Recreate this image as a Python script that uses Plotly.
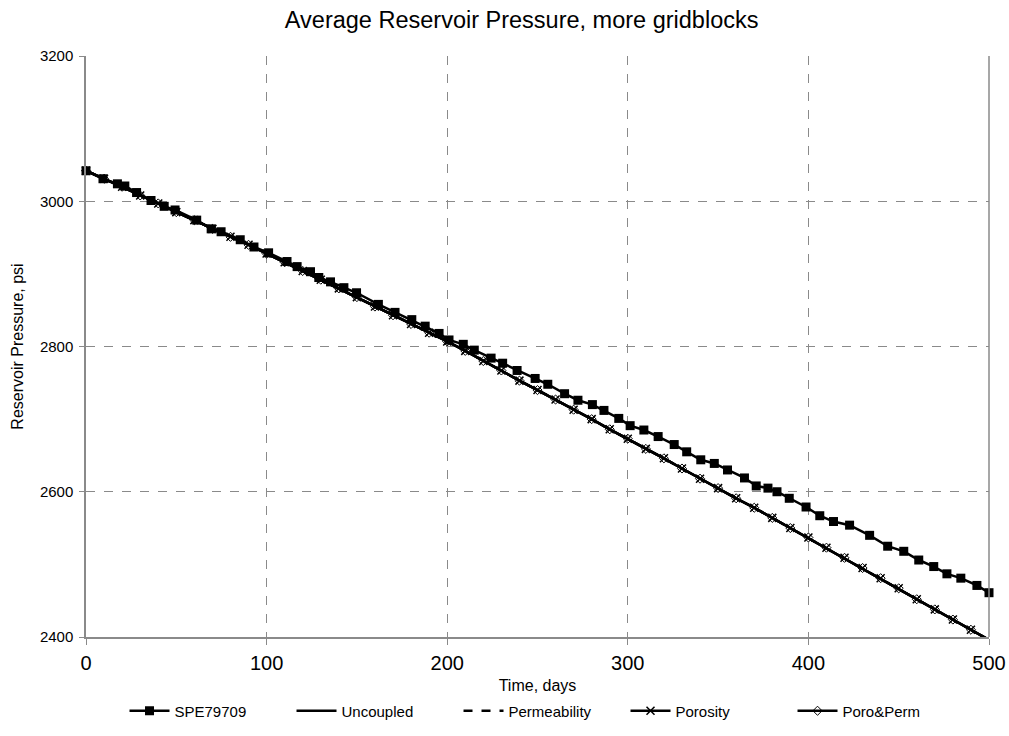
import plotly.graph_objects as go

# SPE79709 reference data (days, psi)
spe_t = [0, 9.4, 17.4, 21.5, 28, 36, 43.3, 49.3, 61.3, 69.3, 74.8, 85.4, 93,
         101.1, 111.3, 116.9, 124.3, 128.9, 135.4, 142.8, 149.8, 161.9, 171.1,
         180.4, 187.8, 195.5, 201, 208.9, 215, 224.3, 230.7, 238.7, 248.7,
         255.7, 265, 272.4, 280.4, 286.8, 295, 301.3, 308.9, 316.8, 325.7,
         332.6, 340.4, 347.9, 355.2, 364.6, 371.1, 377.6, 382.6, 389.4, 398.7,
         406.3, 413.9, 422.8, 433.9, 443.9, 452.8, 461.1, 469.4, 476.7, 484.4,
         493.3, 500]
spe_p = [3042, 3031, 3024, 3021, 3012, 3001, 2993, 2988, 2974, 2962, 2958, 2947, 2937,
         2929, 2917, 2910, 2903, 2895, 2889, 2881, 2874, 2858, 2847,
         2837, 2828, 2818, 2809, 2803, 2795, 2784, 2777, 2767, 2756,
         2748, 2735, 2726, 2720, 2712, 2701, 2691, 2685, 2676, 2665,
         2655, 2644, 2639, 2630, 2619, 2608, 2605, 2600, 2591, 2579,
         2567, 2559, 2554, 2540, 2525, 2518, 2506, 2497, 2487, 2481,
         2471, 2461]

# Simulated runs (all nearly identical)
sim_t = [0, 10, 20, 30, 40, 50, 60, 70, 80, 90, 100, 110, 120, 130, 140, 150,
         160, 170, 180, 190, 200, 210, 220, 230, 240, 250, 260, 270, 280, 290,
         300, 310, 320, 330, 340, 350, 360, 370, 380, 390, 400, 410, 420, 430,
         440, 450, 460, 470, 480, 490, 500]
uncoupled = [3042, 3031, 3020, 3008, 2997, 2985, 2974, 2962, 2951, 2940, 2928,
             2916, 2904, 2892, 2880, 2868, 2855, 2843, 2831, 2819, 2807, 2794,
             2780, 2767, 2753, 2740, 2727, 2713, 2700, 2686, 2673, 2659, 2646,
             2632, 2618, 2605, 2591, 2578, 2564, 2550, 2537, 2523, 2509, 2495,
             2481, 2467, 2452, 2438, 2424, 2410, 2396]
permeability = list(uncoupled)
porosity = list(uncoupled)
poro_perm = list(uncoupled)

FONT = "Liberation Sans, Arial, sans-serif"
GRID = "#8a8a8a"

fig = go.Figure()
fig.add_trace(go.Scatter(x=spe_t, y=spe_p, name="SPE79709", mode="lines+markers",
                         line=dict(color="black", width=2.5),
                         marker=dict(symbol="square", size=9, color="black"),
                         cliponaxis=False))
fig.add_trace(go.Scatter(x=sim_t, y=uncoupled, name="Uncoupled", mode="lines",
                         line=dict(color="black", width=2.5), cliponaxis=False))
fig.add_trace(go.Scatter(x=sim_t, y=permeability, name="Permeability", mode="lines",
                         line=dict(color="black", width=2.5, dash="dash"), cliponaxis=False))
fig.add_trace(go.Scatter(x=sim_t, y=porosity, name="Porosity", mode="lines+markers",
                         line=dict(color="black", width=2.5),
                         marker=dict(symbol="x-thin", size=8, color="black",
                                     line=dict(color="black", width=1.5)),
                         cliponaxis=False))
fig.add_trace(go.Scatter(x=sim_t, y=poro_perm, name="Poro&Perm", mode="lines+markers",
                         line=dict(color="black", width=2.5),
                         marker=dict(symbol="diamond-open", size=7, color="black",
                                     line=dict(width=1)),
                         cliponaxis=False))

fig.add_shape(type="line", xref="paper", yref="paper", x0=1, x1=1, y0=0, y1=1,
              line=dict(color=GRID, width=1.5))

fig.update_layout(
    width=1009, height=736,
    margin=dict(l=86, r=20, t=56, b=99, autoexpand=False),
    paper_bgcolor="white", plot_bgcolor="white",
    font=dict(family=FONT, color="black", size=15),
    title=dict(text="Average Reservoir Pressure, more gridblocks",
               x=0.517, xanchor="center", y=1 - 20 / 736, yanchor="middle",
               yref="container", font=dict(size=23.5)),
    showlegend=True,
    legend=dict(orientation="h", x=0.505, xanchor="center",
                yref="container", y=(736 - 711) / 736, yanchor="middle",
                font=dict(size=15), entrywidth=112, entrywidthmode="pixels",
                itemwidth=40, tracegroupgap=0),
    xaxis=dict(range=[0, 500], tickvals=[0, 100, 200, 300, 400, 500],
               automargin=False,
               showgrid=True, gridcolor=GRID, griddash="dash", gridwidth=1,
               showline=True, linecolor=GRID, linewidth=1.5,
               ticks="outside", ticklen=6, tickcolor=GRID,
               ticklabelstandoff=1,
               tickfont=dict(size=20), zeroline=False,
               title=dict(text="Time, days", font=dict(size=16), standoff=13)),
    yaxis=dict(range=[2400, 3200], tickvals=[2400, 2600, 2800, 3000, 3200],
               automargin=False,
               showgrid=True, gridcolor=GRID, griddash="dash", gridwidth=1,
               showline=True, linecolor=GRID, linewidth=1.5,
               ticks="outside", ticklen=5, tickcolor=GRID,
               ticklabelstandoff=3,
               tickfont=dict(size=15), zeroline=False,
               title=dict(text="Reservoir Pressure, psi", font=dict(size=16), standoff=12)),
)

fig.write_html("out.html")
